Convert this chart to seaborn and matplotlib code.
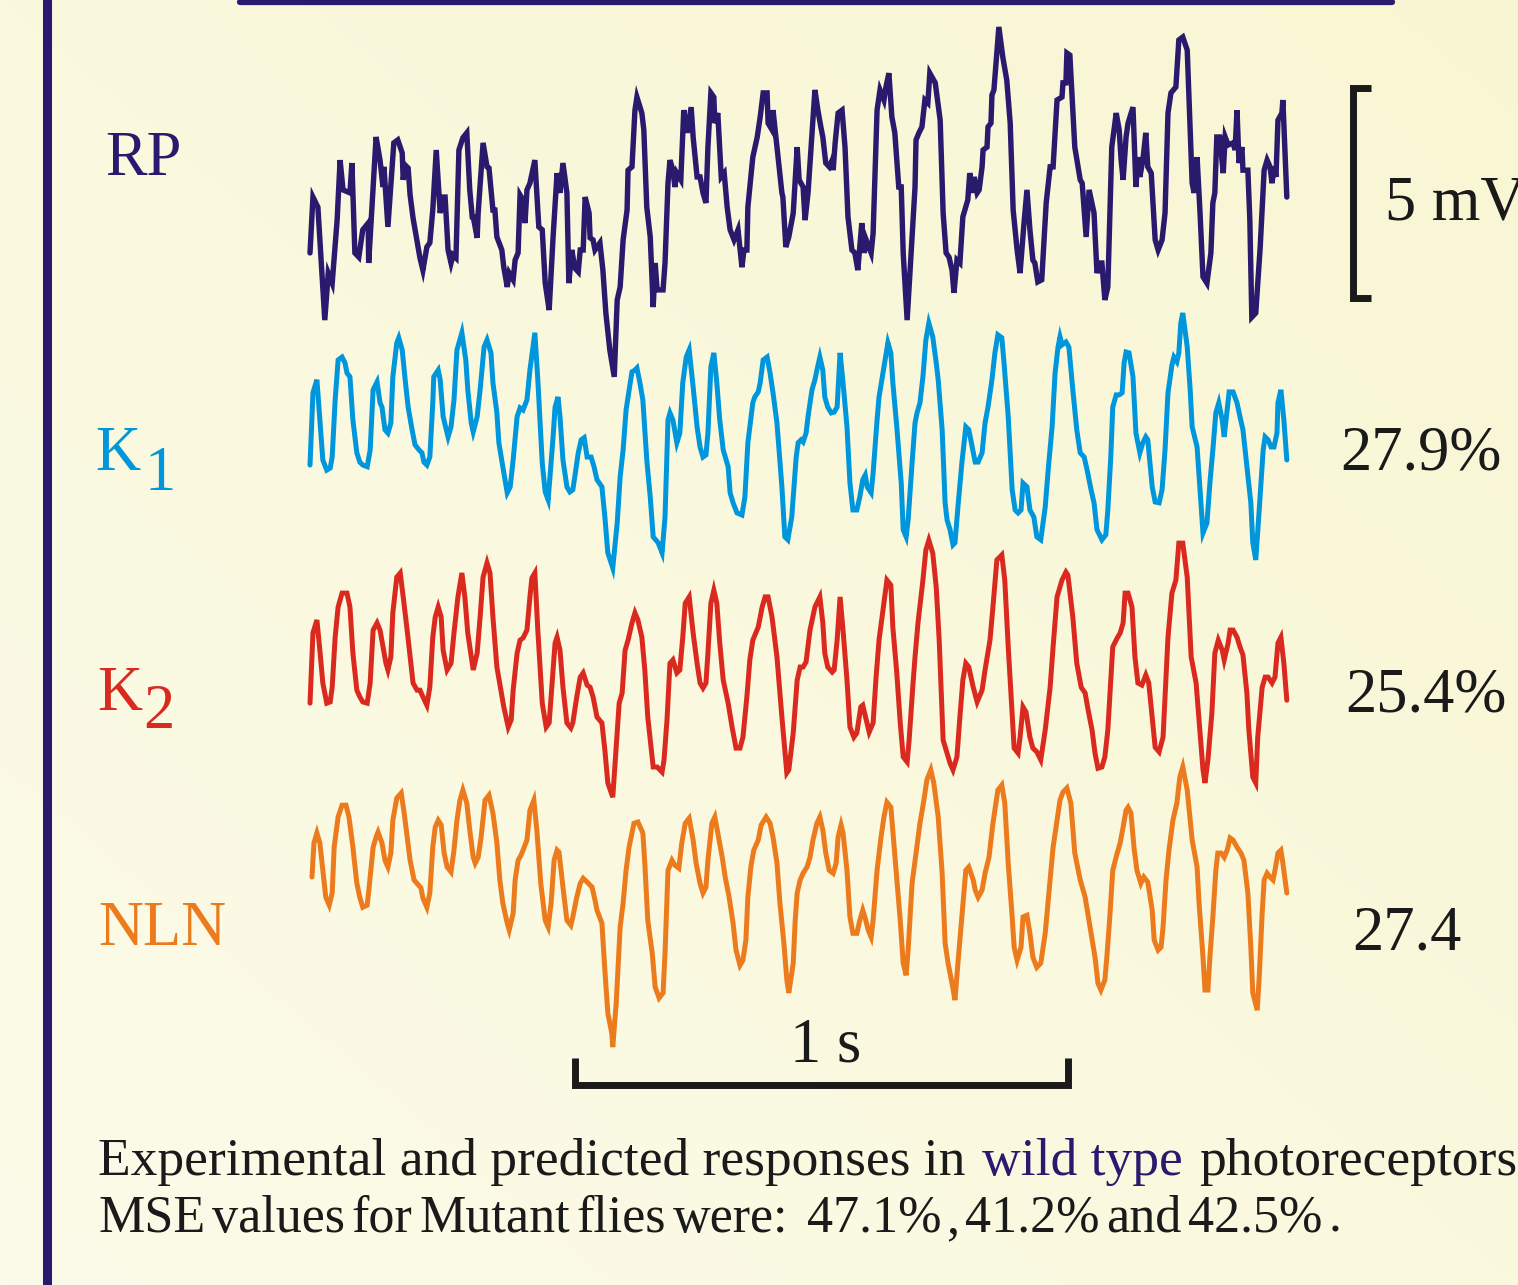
import matplotlib
matplotlib.use("Agg")

import matplotlib.pyplot as plt
from matplotlib.lines import Line2D
import numpy as np
import pandas as pd
import seaborn as sns

W, H, DPI = 1518, 1285, 100

# recorded / predicted traces: (time in ms, mV)
rp = [(0, -1.26), (6, 0.07), (16, -0.17), (30, -2.86), (37, -1.74), (45, -1.98), (55, -0.48), (61, 0.95),
      (67, 0.24), (81, 0.17), (85, 0.88), (91, -1.26), (99, -1.36), (107, -0.71), (118, -0.55), (119, -1.50),
      (134, 1.50), (142, 0.95), (148, 0.31), (150, 0.79), (158, -0.64), (170, 1.36), (178, 1.43), (187, 1.12),
      (189, 0.48), (193, 0.83), (199, 0.76), (203, 0.12), (209, -0.43), (223, -1.38), (229, -1.67), (237, -1.12),
      (243, -1.02), (249, -0.24), (256, 1.19), (264, -0.31), (270, 0.07), (274, 0.07), (280, -1.19), (286, -1.50),
      (290, -1.31), (296, -1.38), (302, 1.19), (310, 1.48), (318, 1.60), (324, 0.24), (329, -0.40), (331, -0.40),
      (339, -0.90), (341, -0.31), (351, 1.36), (359, 0.79), (363, 0.76), (371, -0.24), (375, -0.24), (379, -0.88),
      (389, -1.19), (393, -1.60), (400, -2.07), (404, -1.74), (412, -1.90), (416, -1.43), (422, -1.26), (426, 0.12),
      (432, 0.00), (436, -0.55), (440, 0.24), (446, 0.40), (456, 0.95), (464, -0.64), (471, -0.71), (477, -1.98),
      (485, -2.62), (493, -0.88), (501, 0.64), (507, 0.17), (513, 0.88), (521, 0.17), (525, -1.98), (531, -1.19),
      (537, -1.62), (544, -1.71), (548, -1.19), (554, -1.19), (558, 0.07), (566, -0.31), (568, -0.90), (574, -0.95),
      (578, -1.19), (588, -1.02), (594, -1.67), (600, -2.69), (608, -3.57), (617, -4.21), (623, -2.38), (629, -2.07),
      (635, -0.95), (643, -0.24), (645, 0.71), (653, 0.79), (659, 2.14), (663, 2.45), (673, 2.07), (677, 1.67),
      (683, -0.17), (690, -0.88), (696, -2.55), (700, -1.50), (704, -2.14), (716, -2.14), (720, -1.50), (726, 0.40),
      (730, 0.95), (736, 0.71), (740, 0.31), (744, 0.64), (752, 0.48), (758, 2.14), (765, 1.60), (773, 2.21),
      (777, 1.50), (785, 0.55), (791, 0.55), (797, 0.17), (803, -0.07), (807, 1.26), (813, 2.55), (819, 2.45),
      (821, 1.83), (827, 2.07), (834, 0.55), (840, 0.64), (846, -0.17), (852, -0.71), (860, -0.95), (868, -0.71),
      (876, -1.60), (880, -1.19), (886, -1.19), (888, -0.17), (898, 1.02), (907, 1.50), (913, 1.98), (919, 2.55),
      (927, 2.55), (929, 1.83), (937, 1.67), (939, 2.14), (947, 1.26), (957, 0.17), (959, 0.07), (965, -1.12),
      (971, -0.88), (980, -0.31), (988, 1.26), (992, 0.48), (1000, 0.31), (1004, -0.48), (1010, 0.17), (1024, 2.62),
      (1030, 2.14), (1036, 1.74), (1040, 1.50), (1046, 0.88), (1053, 0.79), (1059, 0.95), (1061, 0.71), (1065, 1.36),
      (1071, 2.07), (1079, 2.14), (1085, 1.26), (1091, -0.40), (1099, -1.19), (1105, -1.26), (1111, -1.67),
      (1119, -0.55), (1124, -1.26), (1128, -0.95), (1138, -1.26), (1142, -0.79), (1150, 2.14), (1156, 2.62),
      (1164, 2.38), (1168, 2.69), (1174, 3.02), (1180, 1.98), (1186, 1.60), (1194, 0.31), (1199, 0.31), (1203, -1.26),
      (1211, -2.86), (1221, -0.88), (1227, 0.31), (1229, 1.43), (1235, 1.60), (1241, 1.74), (1247, 2.38), (1253, 2.31),
      (1257, 3.02), (1268, 2.79), (1278, 1.90), (1284, -0.31), (1290, -1.26), (1296, -1.36), (1302, -1.67),
      (1306, -2.21), (1312, -1.43), (1318, -1.50), (1324, -0.40), (1334, 0.00), (1338, 0.64), (1345, 0.17),
      (1347, 0.55), (1353, 0.17), (1357, 0.24), (1363, 0.79), (1365, 1.19), (1373, 1.26), (1375, 1.74), (1381, 1.83),
      (1383, 2.50), (1387, 2.62), (1397, 4.12), (1405, 3.40), (1413, 2.86), (1420, 1.83), (1426, -0.24), (1434, -1.19),
      (1440, -1.74), (1448, -0.55), (1454, 0.24), (1460, -0.71), (1466, -1.43), (1470, -1.50), (1476, -1.95),
      (1484, -1.90), (1493, -0.07), (1501, 0.79), (1507, 0.79), (1515, 2.38), (1525, 2.45), (1527, 2.79), (1533, 2.79),
      (1535, 3.50), (1541, 3.45), (1551, 1.26), (1562, 0.48), (1566, 0.40), (1574, -0.88), (1580, 0.24), (1590, -0.31),
      (1596, -1.74), (1602, -1.50), (1606, -1.50), (1612, -2.38), (1618, -2.07), (1626, 1.26), (1635, 2.07),
      (1641, 1.67), (1645, 0.95), (1649, 0.48), (1655, 1.50), (1659, 1.83), (1669, 2.21), (1675, 0.31), (1679, 1.02),
      (1683, 0.55), (1689, 0.95), (1695, 1.60), (1699, 0.79), (1706, 0.64), (1710, -0.17), (1714, -0.95),
      (1720, -1.19), (1728, -0.95), (1734, -0.31), (1740, 2.07), (1746, 2.55), (1756, 2.69), (1762, 3.81),
      (1770, 3.88), (1779, 3.57), (1789, 0.40), (1793, 0.17), (1799, 1.02), (1805, -0.31), (1811, -1.83),
      (1819, -1.98), (1827, -1.26), (1831, -0.07), (1835, 0.17), (1839, 1.50), (1845, 1.50), (1852, 0.64),
      (1856, 1.50), (1862, 1.31), (1872, 1.36), (1876, 1.19), (1880, 2.14), (1884, 0.88), (1890, 1.26), (1892, 0.71),
      (1902, 0.71), (1906, -0.48), (1910, -2.79), (1918, -2.69), (1927, -1.12), (1935, 0.71), (1941, 0.95),
      (1947, 0.79), (1951, 0.40), (1955, 0.79), (1959, 0.55), (1963, 1.90), (1971, 2.07), (1973, 2.38), (1981, 0.07)]

k1 = [(0, -0.36), (6, 1.36), (14, 1.67), (20, 0.71), (26, -0.24), (34, -0.48), (41, -0.43), (45, -0.17),
      (51, 1.19), (57, 2.14), (65, 2.21), (71, 2.07), (75, 1.83), (81, 1.74), (87, 0.71), (95, -0.07),
      (101, -0.29), (107, -0.36), (116, -0.40), (122, 0.00), (128, 1.43), (136, 1.62), (142, 1.12), (146, 1.02),
      (152, 0.48), (158, 0.40), (164, 0.64), (168, 1.74), (176, 2.55), (180, 2.67), (187, 2.38), (193, 1.67),
      (199, 1.02), (207, 0.48), (213, 0.12), (221, 0.00), (227, -0.07), (231, -0.29), (237, -0.36), (243, -0.17),
      (249, 1.12), (251, 1.74), (260, 1.90), (264, 1.67), (270, 0.79), (280, 0.31), (286, 0.55), (292, 1.19),
      (298, 2.38), (308, 2.79), (316, 2.14), (320, 1.43), (327, 0.64), (331, 0.43), (339, 0.79), (345, 1.43),
      (353, 2.45), (359, 2.62), (367, 2.31), (371, 1.60), (379, 0.88), (383, 0.17), (391, -0.40), (400, -1.02),
      (406, -0.88), (412, -0.24), (420, 0.79), (426, 1.00), (432, 0.95), (440, 1.19), (446, 1.90), (456, 2.79),
      (462, 1.67), (471, -0.31), (477, -1.00), (483, -1.19), (493, 0.31), (497, 1.02), (503, 1.26), (507, 0.79),
      (513, -0.24), (521, -0.88), (527, -1.00), (533, -0.95), (537, -0.64), (544, -0.07), (550, 0.24), (556, 0.29),
      (562, -0.17), (570, -0.17), (576, -0.40), (582, -0.71), (592, -0.88), (598, -1.60), (604, -2.45), (614, -2.81),
      (623, -1.74), (629, -0.64), (635, 0.00), (641, 0.95), (645, 1.26), (653, 1.86), (659, 1.90), (663, 1.95),
      (669, 1.60), (675, 1.19), (683, -0.24), (690, -1.12), (696, -2.07), (706, -2.21), (714, -2.45), (720, -1.60),
      (726, 0.71), (730, 0.88), (736, 0.71), (744, 0.17), (750, 0.40), (756, 1.60), (763, 2.21), (769, 2.38),
      (777, 1.50), (785, 0.55), (791, 0.07), (797, -0.17), (803, -0.12), (807, 0.40), (813, 1.98), (819, 2.31),
      (825, 1.60), (831, 0.71), (838, 0.00), (848, -0.40), (852, -1.02), (858, -1.26), (866, -1.50), (876, -1.55),
      (882, -1.12), (888, 0.17), (898, 1.12), (902, 1.26), (909, 1.38), (913, 1.60), (919, 2.14), (927, 2.21),
      (933, 1.83), (939, 1.36), (947, 0.64), (957, -0.88), (963, -2.07), (969, -2.14), (977, -1.60), (986, -0.17),
      (990, 0.17), (996, 0.24), (1000, 0.19), (1006, 0.40), (1010, 0.79), (1018, 1.43), (1024, 1.67), (1028, 1.90),
      (1034, 2.21), (1040, 1.90), (1044, 1.26), (1050, 1.02), (1057, 0.88), (1063, 0.90), (1069, 1.02), (1075, 2.31),
      (1081, 1.60), (1089, 0.55), (1095, -0.79), (1101, -1.43), (1109, -1.43), (1115, -1.12), (1121, -0.71),
      (1126, -0.60), (1130, -0.88), (1138, -1.02), (1142, -0.55), (1150, 0.71), (1154, 1.26), (1162, 1.83),
      (1172, 2.55), (1178, 2.31), (1182, 1.60), (1190, 0.55), (1199, -0.79), (1203, -1.90), (1209, -2.07),
      (1213, -1.67), (1221, -0.31), (1227, 0.64), (1231, 0.88), (1237, 1.12), (1243, 1.74), (1249, 2.62), (1255, 3.02),
      (1263, 2.69), (1270, 2.07), (1274, 1.67), (1282, 0.48), (1288, -1.26), (1292, -1.67), (1298, -1.90),
      (1304, -2.26), (1308, -2.21), (1314, -1.36), (1322, -0.31), (1330, 0.55), (1336, 0.48), (1343, 0.07),
      (1349, -0.29), (1355, -0.29), (1363, -0.07), (1369, 0.64), (1375, 1.02), (1383, 1.67), (1389, 2.31),
      (1395, 2.74), (1403, 2.67), (1407, 2.14), (1416, 0.79), (1424, -0.95), (1430, -1.43), (1436, -1.50),
      (1442, -1.43), (1446, -0.79), (1454, -0.88), (1460, -1.43), (1468, -1.60), (1474, -2.07), (1482, -2.14),
      (1491, -1.36), (1497, -0.48), (1505, 0.55), (1511, 1.83), (1517, 2.45), (1521, 2.69), (1525, 2.50),
      (1533, 2.57), (1539, 2.45), (1547, 1.43), (1555, 0.48), (1562, -0.07), (1570, -0.17), (1576, -0.48),
      (1584, -0.95), (1590, -1.26), (1596, -1.90), (1606, -2.14), (1614, -2.02), (1618, -1.43), (1624, -0.17),
      (1628, 1.02), (1635, 1.31), (1641, 1.31), (1647, 1.36), (1651, 2.07), (1655, 2.33), (1661, 2.31), (1669, 1.74),
      (1675, 0.40), (1683, -0.07), (1689, 0.17), (1695, 0.31), (1699, 0.24), (1708, -0.88), (1714, -1.24),
      (1722, -1.26), (1728, -0.95), (1734, 0.00), (1740, 1.36), (1748, 2.02), (1752, 2.21), (1758, 2.10),
      (1762, 2.31), (1766, 3.02), (1770, 3.26), (1779, 2.45), (1785, 1.43), (1789, 0.55), (1799, 0.07), (1805, -0.95),
      (1811, -1.98), (1819, -1.74), (1825, -0.79), (1831, 0.00), (1837, 0.88), (1843, 1.12), (1850, 0.71),
      (1854, 0.31), (1860, 0.95), (1864, 1.38), (1872, 1.38), (1880, 1.12), (1886, 0.79), (1892, 0.48), (1900, -0.40),
      (1908, -1.26), (1912, -2.21), (1918, -2.62), (1925, -1.43), (1933, 0.00), (1937, 0.31), (1943, 0.24),
      (1949, 0.07), (1955, 0.07), (1961, 0.40), (1963, 1.12), (1969, 1.43), (1975, 0.71), (1981, -0.24)]

k2 = [(0, -0.55), (6, 1.12), (14, 1.43), (20, 0.71), (26, -0.07), (34, -0.55), (41, -0.52), (45, -0.17),
      (51, 1.02), (57, 1.74), (65, 2.07), (75, 2.07), (81, 1.74), (87, 0.64), (95, -0.24), (101, -0.40),
      (107, -0.52), (116, -0.55), (122, -0.07), (128, 1.19), (136, 1.36), (142, 1.19), (148, 0.79), (154, 0.40),
      (158, 0.24), (164, 0.55), (168, 1.60), (176, 2.45), (183, 2.55), (189, 1.98), (197, 1.19), (203, 0.55),
      (209, -0.07), (217, -0.24), (223, -0.24), (229, -0.40), (237, -0.60), (243, -0.17), (249, 1.02), (254, 1.50),
      (260, 1.74), (266, 1.50), (270, 0.71), (278, 0.24), (286, 0.40), (292, 1.12), (300, 1.98), (308, 2.55),
      (314, 1.98), (320, 1.12), (327, 0.55), (331, 0.24), (339, 0.64), (345, 1.50), (351, 2.45), (359, 2.79),
      (365, 2.55), (371, 1.50), (379, 0.31), (387, -0.24), (393, -0.64), (402, -1.12), (408, -0.95), (412, -0.24),
      (420, 0.64), (426, 0.95), (432, 1.00), (440, 1.19), (446, 1.98), (450, 2.43), (456, 2.55), (462, 1.19),
      (471, -0.55), (479, -1.12), (485, -1.02), (493, 0.24), (497, 0.88), (501, 1.02), (507, 0.71), (513, -0.17),
      (521, -1.02), (529, -1.14), (533, -1.02), (541, -0.40), (548, 0.07), (554, 0.17), (562, -0.12), (568, -0.17),
      (574, -0.40), (582, -0.88), (592, -1.02), (598, -1.67), (604, -2.45), (614, -2.79), (621, -1.60), (627, -0.55),
      (633, -0.31), (639, 0.71), (645, 0.95), (653, 1.36), (659, 1.60), (665, 1.43), (673, 1.02), (679, 0.24),
      (685, -0.88), (696, -2.07), (704, -2.07), (714, -2.19), (718, -1.90), (724, -0.95), (730, 0.40), (736, 0.48),
      (744, 0.17), (750, 0.24), (756, 1.02), (761, 1.83), (769, 1.98), (777, 1.12), (785, 0.40), (791, -0.07),
      (797, -0.19), (803, -0.07), (807, 0.64), (813, 1.83), (819, 2.14), (825, 1.83), (831, 0.88), (838, 0.00),
      (848, -0.55), (856, -1.12), (864, -1.62), (872, -1.62), (878, -1.36), (886, -0.40), (892, 0.48), (898, 0.95),
      (909, 1.26), (917, 1.74), (923, 1.98), (929, 1.98), (937, 1.50), (947, 0.55), (957, -0.88), (967, -2.21),
      (971, -2.14), (980, -1.26), (988, 0.00), (994, 0.31), (1000, 0.31), (1006, 0.43), (1014, 1.19), (1024, 1.74),
      (1034, 1.98), (1040, 1.36), (1044, 0.64), (1050, 0.31), (1059, 0.19), (1063, 0.24), (1069, 0.95), (1075, 1.98),
      (1081, 1.19), (1089, 0.00), (1095, -1.12), (1103, -1.36), (1109, -1.26), (1117, -0.64), (1121, -0.60),
      (1128, -0.95), (1134, -1.24), (1142, -1.02), (1148, 0.07), (1154, 0.95), (1162, 1.67), (1170, 2.38),
      (1178, 2.26), (1182, 1.26), (1190, 0.17), (1197, -1.02), (1203, -1.83), (1211, -1.95), (1215, -1.43),
      (1223, -0.07), (1227, 0.55), (1233, 1.36), (1243, 2.38), (1249, 3.10), (1255, 3.33), (1263, 3.02), (1270, 2.21),
      (1276, 0.95), (1284, -1.43), (1292, -1.74), (1298, -1.98), (1304, -2.14), (1312, -1.83), (1318, -0.88),
      (1324, 0.00), (1330, 0.40), (1336, 0.31), (1345, -0.17), (1353, -0.52), (1363, -0.24), (1369, 0.24),
      (1379, 0.95), (1385, 1.74), (1393, 2.86), (1403, 2.98), (1409, 2.38), (1416, 0.79), (1426, -1.19), (1428, -1.62),
      (1436, -1.74), (1440, -1.36), (1446, -0.64), (1452, -0.76), (1460, -1.36), (1466, -1.62), (1474, -1.71),
      (1482, -1.90), (1491, -1.19), (1501, -0.17), (1507, 0.79), (1515, 1.98), (1525, 2.38), (1533, 2.57),
      (1537, 2.50), (1547, 1.50), (1555, 0.40), (1564, -0.17), (1572, -0.31), (1578, -0.71), (1586, -1.19),
      (1592, -1.74), (1598, -2.10), (1606, -2.07), (1612, -1.83), (1618, -1.19), (1624, 0.00), (1628, 0.79),
      (1637, 1.00), (1643, 1.12), (1649, 1.36), (1653, 2.07), (1659, 2.07), (1667, 1.74), (1673, 0.55), (1679, -0.07),
      (1687, -0.12), (1695, 0.12), (1701, -0.07), (1708, -0.88), (1714, -1.60), (1722, -1.71), (1730, -1.36),
      (1734, -0.40), (1740, 1.02), (1748, 2.07), (1756, 2.38), (1762, 3.26), (1770, 3.26), (1779, 2.45), (1787, 0.55),
      (1797, -0.07), (1803, -0.95), (1811, -2.14), (1815, -2.45), (1821, -1.90), (1829, -0.79), (1835, 0.64),
      (1842, 0.95), (1850, 0.71), (1854, 0.48), (1862, 0.88), (1866, 1.19), (1872, 1.19), (1880, 1.02), (1886, 0.79),
      (1892, 0.60), (1900, -0.31), (1904, -1.19), (1912, -2.31), (1918, -2.45), (1922, -1.36), (1931, -0.17),
      (1937, 0.07), (1943, 0.07), (1951, -0.07), (1957, 0.07), (1963, 0.88), (1969, 1.02), (1975, 0.40), (1981, -0.48)]

nln = [(4, 0.55), (8, 1.36), (14, 1.60), (20, 1.36), (26, 0.71), (32, 0.07), (39, -0.12), (45, 0.17),
       (49, 1.26), (57, 1.98), (65, 2.26), (73, 2.26), (79, 1.98), (87, 1.26), (95, 0.40), (101, 0.07),
       (107, -0.17), (116, -0.12), (120, 0.31), (128, 1.26), (134, 1.50), (138, 1.62), (146, 1.36), (152, 0.95),
       (158, 0.79), (164, 1.12), (168, 1.90), (176, 2.43), (185, 2.55), (191, 2.07), (197, 1.50), (203, 0.95),
       (211, 0.48), (217, 0.40), (225, 0.29), (229, 0.05), (237, -0.17), (243, 0.17), (249, 1.26), (254, 1.74),
       (260, 1.90), (266, 1.79), (272, 1.12), (278, 0.79), (286, 0.67), (292, 1.19), (298, 1.90), (304, 2.38),
       (310, 2.62), (318, 2.31), (324, 1.67), (331, 1.02), (335, 0.88), (341, 1.02), (347, 1.50), (355, 2.38),
       (363, 2.50), (371, 2.07), (379, 1.36), (385, 0.48), (391, -0.07), (400, -0.55), (404, -0.71), (412, -0.31),
       (416, 0.48), (422, 0.95), (428, 1.07), (432, 1.19), (440, 1.43), (446, 2.14), (454, 2.38), (460, 1.67),
       (468, 0.40), (477, -0.48), (483, -0.64), (489, -0.07), (495, 0.95), (501, 1.19), (505, 1.14), (513, 0.31),
       (521, -0.48), (529, -0.60), (533, -0.40), (541, 0.07), (548, 0.40), (554, 0.52), (562, 0.43), (572, 0.31),
       (578, 0.00), (582, -0.24), (592, -0.55), (598, -1.67), (604, -2.69), (612, -3.17), (614, -3.50), (621, -2.45),
       (629, -0.64), (635, -0.07), (641, 0.71), (647, 1.26), (657, 1.83), (665, 1.86), (675, 1.60), (679, 0.88),
       (685, -0.48), (694, -1.26), (700, -2.07), (708, -2.33), (716, -2.21), (720, -1.26), (726, 0.71), (734, 0.95),
       (740, 0.83), (748, 0.76), (754, 1.36), (761, 1.83), (769, 1.95), (777, 1.43), (783, 0.88), (791, 0.40),
       (797, 0.17), (803, 0.31), (807, 0.95), (815, 1.83), (821, 1.98), (827, 1.60), (836, 1.02), (842, 0.55),
       (850, 0.07), (858, -0.55), (864, -1.19), (872, -1.55), (878, -1.43), (884, -0.95), (888, 0.07), (894, 0.79),
       (900, 1.19), (909, 1.43), (915, 1.79), (925, 1.98), (933, 1.83), (939, 1.50), (947, 0.88), (953, -0.07),
       (961, -1.02), (967, -1.90), (971, -2.21), (980, -1.50), (984, -0.48), (988, 0.17), (994, 0.48), (1000, 0.64),
       (1008, 0.79), (1014, 1.02), (1020, 1.43), (1028, 1.83), (1034, 1.98), (1040, 1.67), (1046, 1.12), (1053, 0.71),
       (1061, 0.64), (1067, 0.88), (1071, 1.50), (1077, 1.79), (1081, 1.60), (1089, 0.71), (1095, -0.40),
       (1101, -0.79), (1109, -0.79), (1115, -0.48), (1121, -0.24), (1126, -0.43), (1132, -0.71), (1138, -0.88),
       (1142, -0.48), (1150, 0.71), (1158, 1.50), (1164, 1.98), (1170, 2.33), (1178, 2.21), (1184, 1.36), (1190, 0.48),
       (1197, -0.48), (1203, -1.50), (1209, -1.79), (1213, -1.19), (1221, 0.40), (1229, 1.12), (1237, 1.83),
       (1245, 2.38), (1251, 2.86), (1259, 3.10), (1265, 2.79), (1274, 1.98), (1282, 0.64), (1288, -1.02),
       (1294, -1.50), (1302, -1.98), (1308, -2.38), (1314, -1.50), (1322, -0.40), (1330, 0.71), (1336, 0.79),
       (1345, 0.48), (1349, 0.24), (1355, 0.07), (1363, 0.24), (1369, 0.64), (1377, 1.02), (1385, 1.83), (1395, 2.62),
       (1403, 2.74), (1409, 2.31), (1416, 0.88), (1424, -0.40), (1428, -1.12), (1434, -1.43), (1442, -1.12),
       (1446, -0.40), (1454, -0.36), (1460, -0.79), (1466, -1.36), (1474, -1.60), (1482, -1.50), (1491, -0.79),
       (1501, 0.48), (1507, 1.26), (1515, 1.90), (1521, 2.38), (1527, 2.57), (1535, 2.67), (1543, 2.31), (1551, 1.12),
       (1562, 0.48), (1572, 0.07), (1582, -0.64), (1592, -1.36), (1598, -1.98), (1604, -2.14), (1612, -1.90),
       (1616, -1.36), (1622, -0.40), (1628, 0.71), (1637, 1.12), (1643, 1.36), (1649, 1.74), (1655, 2.14),
       (1659, 2.21), (1665, 2.07), (1671, 1.26), (1677, 0.71), (1685, 0.40), (1691, 0.55), (1699, 0.43), (1708, -0.24),
       (1712, -0.95), (1720, -1.19), (1726, -1.12), (1730, -0.64), (1736, 0.48), (1742, 1.19), (1750, 1.90),
       (1758, 2.31), (1764, 2.93), (1770, 3.17), (1779, 2.62), (1789, 1.43), (1799, 0.79), (1803, -0.07),
       (1811, -1.36), (1815, -2.14), (1821, -2.14), (1825, -1.36), (1831, -0.40), (1837, 0.71), (1841, 1.12),
       (1848, 1.12), (1854, 1.02), (1860, 1.19), (1866, 1.48), (1872, 1.43), (1880, 1.26), (1888, 1.12), (1894, 0.95),
       (1902, 0.17), (1908, -1.12), (1912, -2.21), (1921, -2.62), (1925, -1.83), (1931, -0.31), (1935, 0.48),
       (1941, 0.64), (1947, 0.55), (1953, 0.48), (1957, 0.71), (1963, 1.12), (1969, 1.19), (1973, 0.88), (1981, 0.17)]

trace_names = ["RP", "K", "K", "NLN"]
trace_subs = ["", "1", "2", ""]
mse_labels = ["", "27.9%", "25.4%", "27.4"]
caption_pre = "Experimental and predicted responses in"
caption_hl = "wild type"
caption_post = "photoreceptors"
caption_2 = ["MSE", "values", "for", "Mutant", "flies", "were:", "47.1%", ",", "41.2%", "and", "42.5%", "."]
volt_bar_mv = 5
time_bar_ms = 1000

navy = "#2A1A6E"
ink = "#1a1a1a"
colors = [navy, "#0096DC", "#DA2A1F", "#EC7B1E"]
offsets = [0.0, -5.95, -11.43, -16.67]   # vertical stacking (mV)
widths = [3.9, 3.6, 3.6, 3.6]

sns.set_theme(style="white")
plt.rcParams["font.family"] = ["Liberation Serif", "DejaVu Serif"]

fig = plt.figure(figsize=(W / DPI, H / DPI), dpi=DPI)

# pale yellow slide background
bg = fig.add_axes([0, 0, 1, 1])
gy, gx = np.mgrid[0:1:300j, 0:1:300j]
s = np.clip((gx + (1 - gy)) / 2, 0, 1)[..., None]
light = np.array([252, 251, 233]) / 255
yellow = np.array([248, 246, 210]) / 255
bg.imshow(light * (1 - s) + yellow * s, aspect="auto", extent=[0, 1, 0, 1])
bg.axis("off")

ax = fig.add_axes([0, 0, 1, 1])
ax.patch.set_alpha(0)
ax.set_xlim((0 - 310) * 2.028, (W - 310) * 2.028)
ax.set_ylim((200 - H) / 42, 200 / 42)
ax.axis("off")

for tr, c, off, lw in zip([rp, k1, k2, nln], colors, offsets, widths):
    df = pd.DataFrame(tr, columns=["t", "mv"])
    df["y"] = df["mv"] + off
    sns.lineplot(data=df, x="t", y="y", sort=False, estimator=None, color=c,
                 lw=lw, ax=ax, legend=False, solid_joinstyle="miter")

# scale bars
vx = 2115
vy0 = (200 - 88) / 42
ax.plot([vx + 36, vx, vx, vx + 36], [vy0, vy0, vy0 - volt_bar_mv, vy0 - volt_bar_mv],
        color=ink, lw=5.0, solid_joinstyle="miter", solid_capstyle="butt")
tx0 = 537
ty = (200 - 1085) / 42
ax.plot([tx0, tx0, tx0 + time_bar_ms, tx0 + time_bar_ms], [ty + 0.65, ty, ty, ty + 0.65],
        color=ink, lw=5.0, solid_joinstyle="miter", solid_capstyle="butt")


def put(px, py, txt, **kw):
    return fig.text(px / W, 1 - py / H, txt, va="baseline", ha="left", **kw)


# frame lines of the slide
fig.add_artist(Line2D([47 / W, 47 / W], [0, 1], color=navy, lw=6.5, transform=fig.transFigure))
fig.add_artist(Line2D([240 / W, 1392 / W], [1 - 1.5 / H, 1 - 1.5 / H], color=navy, lw=4.5,
                      transform=fig.transFigure))

fs = 45
label_pos = [(105, 175), (95, 470), (97, 710), (98, 945)]
sub_pos = [None, (145, 490), (143, 728), None]
mse_pos = [None, (1340, 470), (1345, 711), (1352, 950)]
for name, sub, c, lp, sp, mse, mp in zip(trace_names, trace_subs, colors, label_pos, sub_pos,
                                         mse_labels, mse_pos):
    put(lp[0], lp[1], name, color=c, fontsize=fs)
    if sub:
        put(sp[0], sp[1], sub, color=c, fontsize=fs)
    if mse:
        put(mp[0], mp[1], mse, color=ink, fontsize=fs)

put(1385, 219, f"{volt_bar_mv} mV", color=ink, fontsize=fs)
put(790, 1062, f"{time_bar_ms // 1000} s", color=ink, fontsize=fs)

# caption with highlighted words
cfs = 38.5
r = fig.canvas.get_renderer()
sp_a = put(0, 0, "x x", fontsize=cfs)
sp_b = put(0, 0, "xx", fontsize=cfs)
space = sp_a.get_window_extent(r).width - sp_b.get_window_extent(r).width
sp_a.remove()
sp_b.remove()

t1 = put(98, 1175, caption_pre, color=ink, fontsize=cfs)
x = 98 + t1.get_window_extent(r).width + space * 1.25
t2 = put(x, 1175, caption_hl, color=navy, fontsize=cfs)
x += t2.get_window_extent(r).width + space * 1.25
put(x, 1175, caption_post, color=ink, fontsize=cfs)

# second line is set tight in the original
cfs2 = 37.5
gaps = [0.5, 0.5, 0.5, 0.5, 0.5, 1.4, 0.35, 0.45, 0.5, 0.5, 0.45]
x = 98
for i, wd in enumerate(caption_2):
    t = put(x, 1232, wd, color=ink, fontsize=cfs2)
    x += t.get_window_extent(r).width
    if i < len(gaps):
        x += space * gaps[i]

fig.savefig("out.png", dpi=DPI)
